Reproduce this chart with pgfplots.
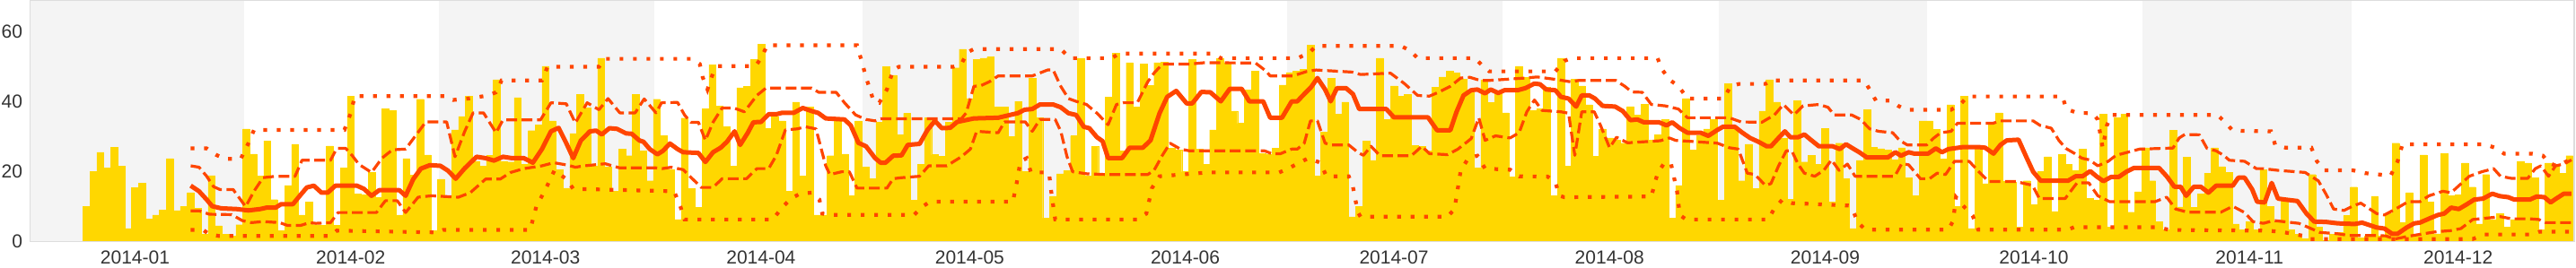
\documentclass[border=0pt]{standalone}
\usepackage{fontspec}
\setmainfont{Liberation Sans}
\usepackage{pgfplots}
\pgfplotsset{compat=1.18}
\definecolor{bargold}{RGB}{255,215,0}
\definecolor{lineor}{RGB}{255,69,0}
\definecolor{bandgray}{RGB}{244,244,244}
\definecolor{spinegray}{RGB}{221,221,221}
\definecolor{txtgray}{RGB}{51,51,51}
\begin{document}
\begin{tikzpicture}
\begin{axis}[
  name=main,
  scale only axis,
  width=1417pt, height=134.15pt,
  xmin=-0.03, xmax=365.69, ymin=0, ymax=69,
  xtick={15,46,74,105,135,166,196,227,258,288,319,349},
  xticklabels={2014-01,2014-02,2014-03,2014-04,2014-05,2014-06,2014-07,2014-08,2014-09,2014-10,2014-11,2014-12},
  ytick={0,20,40,60},
  major tick length=0pt,
  tick style={draw=none},
  axis line style={draw=spinegray, line width=0.6pt},
  tick label style={font=\fontsize{10.5}{12}\selectfont, text=txtgray},
  /pgf/number format/assume math mode=true,
  xticklabel style={yshift=-2pt},
  yticklabel style={xshift=-1pt},
]
\fill[bandgray] (axis cs:-0.03,0) rectangle (axis cs:30.65,69);
\fill[bandgray] (axis cs:58.65,0) rectangle (axis cs:89.65,69);
\fill[bandgray] (axis cs:119.65,0) rectangle (axis cs:150.65,69);
\fill[bandgray] (axis cs:180.65,0) rectangle (axis cs:211.65,69);
\fill[bandgray] (axis cs:242.65,0) rectangle (axis cs:272.65,69);
\fill[bandgray] (axis cs:303.65,0) rectangle (axis cs:333.65,69);

\addplot[ybar, bar width=1, fill=bargold, draw=bargold, line width=0.2pt] coordinates {
(8,10)(9,20)(10,25.5)(11,21)(12,27)(13,21.6)(14,3.6)(15,15.4)(16,16.7)(17,6.4)(18,7.5)(19,9)(20,23.7)(21,8.8)(22,10)(23,13.9)(24,9.5)(25,2)(26,18.8)(27,4.4)(28,2)(29,1.5)(30,4.7)(31,32.2)(32,25)(33,18.6)(34,28.8)(35,11.9)(36,3)(37,16)(38,27.8)(39,7.5)(40,11.2)(41,4.7)(42,4.5)(43,27.3)(44,4.5)(45,21)(46,41.6)(47,13.6)(48,13.3)(49,19.7)(50,12.6)(51,37.9)(52,37.5)(53,7.5)(54,23.7)(55,19)(56,40.7)(57,24.7)(58,3)(59,17.8)(60,12.6)(61,31.9)(62,35.8)(63,41.6)(64,22.9)(65,21.6)(66,24.6)(67,46.3)(68,22.9)(69,22.7)(70,41.2)(71,22)(72,31.7)(73,33.4)(74,50.2)(75,34.5)(76,20.5)(77,15.2)(78,30.9)(79,42)(80,38.2)(81,21.6)(82,52.5)(83,21.2)(84,14.3)(85,26.4)(86,24.5)(87,42)(88,25.8)(89,17.3)(90,40.7)(91,30.2)(92,20.6)(93,6.2)(94,35.3)(95,15)(96,9.6)(97,37.9)(98,50.6)(99,38.8)(100,32.8)(101,21.6)(102,44)(103,44.4)(104,52.1)(105,56.4)(106,32.4)(107,35.8)(108,34.5)(109,14.3)(110,39.9)(111,18.6)(112,38.4)(113,7.5)(114,7.5)(115,24.5)(116,34.5)(117,25)(118,13)(119,34.5)(120,21.2)(121,18)(122,34.2)(123,50)(124,47.6)(125,30.5)(126,36.7)(127,11.8)(128,22)(129,35.4)(130,24.8)(131,24.3)(132,34.2)(133,49.7)(134,55.1)(135,40.9)(136,52.1)(137,52.5)(138,52.8)(139,38.5)(140,38.4)(141,30)(142,40.1)(143,19.9)(144,46.7)(145,35.4)(146,6.6)(147,12.9)(148,19.3)(149,20.3)(150,30.2)(151,52.5)(152,18.6)(153,27.2)(154,19.5)(155,41.4)(156,54)(157,25.9)(158,51.2)(159,38.5)(160,50.8)(161,44.6)(162,51.2)(163,51.4)(164,26.6)(165,26.1)(166,19.9)(167,52.1)(168,26.4)(169,22.1)(170,31.9)(171,52.5)(172,51.2)(173,37.3)(174,33.8)(175,43.3)(176,48.7)(177,25.2)(178,24.9)(179,26.6)(180,44.8)(181,48.4)(182,48.8)(183,49.3)(184,56.2)(185,18.6)(186,31.2)(187,46.7)(188,36.4)(189,39.9)(190,7)(191,10)(192,28.7)(193,23.2)(194,52.5)(195,34.9)(196,44.5)(197,41.5)(198,42)(199,27.4)(200,27.2)(201,25.8)(202,44.1)(203,47.1)(204,48.8)(205,48.2)(206,46.4)(207,42.7)(208,21)(209,46.3)(210,39.7)(211,43.1)(212,36.8)(213,18.4)(214,50.2)(215,47)(216,37.5)(217,37.9)(218,44.2)(219,13)(220,52.5)(221,21.5)(222,46.5)(223,44.5)(224,39.1)(225,24.4)(226,32.2)(227,29.6)(228,29)(229,28.1)(230,38.6)(231,36.2)(232,39.2)(233,28.9)(234,30.6)(235,34.9)(236,6.6)(237,16)(238,40.9)(239,26.1)(240,30.2)(241,32.2)(242,34.9)(243,11.8)(244,45.2)(245,32.8)(246,17.3)(247,27.8)(248,15)(249,37.3)(250,46.3)(251,39.9)(252,29.4)(253,12)(254,40.3)(255,22.7)(256,24.6)(257,22.1)(258,32.4)(259,11.2)(260,28.1)(261,17.9)(262,3.6)(263,23.2)(264,37.8)(265,27)(266,26.5)(267,26.2)(268,23.3)(269,26.8)(270,18.2)(271,13)(272,34.5)(273,34.5)(274,32)(275,23.5)(276,39.1)(277,10)(278,41.6)(279,3.6)(280,27.5)(281,16.5)(282,34.2)(283,36.8)(284,17.1)(285,16.9)(286,4)(287,17.3)(288,10.5)(289,19.9)(290,24.2)(291,8.5)(292,24.8)(293,22)(294,20.3)(295,26.4)(296,12.2)(297,11.8)(298,36.4)(299,4)(300,35.4)(301,36.5)(302,8.3)(303,14.2)(304,26.8)(305,17.3)(306,5.6)(307,3.3)(308,31.8)(309,9.8)(310,24)(311,9.6)(312,13.6)(313,19.5)(314,26.8)(315,21.4)(316,19.8)(317,4.9)(318,3.2)(319,5.5)(320,3.2)(321,20.5)(322,10)(323,5.3)(324,12.4)(325,3.2)(326,1.9)(327,0.6)(328,19.1)(329,4)(330,0.2)(331,1.9)(332,2.5)(333,7.3)(334,15.5)(335,0.9)(336,1.5)(337,12.9)(338,1.5)(339,7.9)(340,28.1)(341,5.3)(342,13.9)(343,1.5)(344,24.7)(345,11.3)(346,2.1)(347,25.2)(348,13)(349,13.2)(350,22.4)(351,15.5)(352,4.9)(353,19.1)(354,6.2)(355,7.9)(356,4)(357,6.2)(358,22.9)(359,22.4)(360,18.2)(361,3.3)(362,22.4)(363,21.6)(364,19.5)(365,24.5)
};

% rolling maximum
\addplot[lineor, line width=2.1pt, dash pattern=on 2.1pt off 5.4pt] coordinates {
(23,26.6)(25.3,26.6)(26.6,24.8)(27.9,23.6)(30.2,23.6)(31.3,28.1)(32.1,31.9)(45.1,31.9)(46,36.7)(46.6,41.6)(59.6,41.6)(60.7,40.5)(62.9,40.9)(65.8,41.8)(66.9,42.7)(67.7,46.1)(73.5,46.1)(74.3,50)(81.7,50)(82.5,52.3)(95.1,52.3)(96.2,50.8)(96.6,47.1)(97.3,43.5)(98.1,48.2)(98.8,50.2)(104.2,50.2)(105,52.5)(105.9,56.2)(118.8,56.2)(119.4,52.1)(120.1,47)(121.2,40.1)(122,39.7)(123.1,43.5)(124,49.1)(124.8,50)(132.6,50)(133.8,50.8)(134.7,54.2)(135.6,55.1)(148.1,55.1)(149.4,52.5)(155.4,52.5)(156.5,53.8)(170,53.8)(171.1,52.5)(182.2,52.5)(183.9,54.2)(184.8,56)(197,56)(198.3,54.7)(199.4,52.5)(207.6,52.5)(208.7,50.4)(209.7,48.7)(219.2,48.7)(220.5,51.7)(221.5,52.5)(233.9,52.5)(234.5,49.4)(235.6,46.3)(236.9,44.5)(238.2,40.9)(243.4,40.9)(244.4,44.4)(245.6,45.1)(249.4,45.1)(250.2,46.1)(263.6,46.1)(264.4,43.5)(265.3,40.3)(267.4,40.3)(268.5,38.8)(269.6,37.7)(276.1,37.7)(277.4,39.2)(278.5,41.5)(292.1,41.5)(292.7,37.9)(294.2,36.8)(296.4,36.7)(297.2,34.9)(297.7,28.9)(297.9,26.8)(298.5,33.2)(299.2,36.2)(314.4,36.2)(315.5,34.1)(316.6,31.7)(322.1,31.5)(322.7,27.6)(324.2,26.8)(327.9,26.8)(328.7,22.9)(329.8,20.3)(333.9,20.3)(335.6,19.5)(339.3,18.8)(340.3,22.9)(341,27.8)(352.8,27.8)(354.3,26.8)(355.6,25.1)(359.7,25.1)(361.2,24.5)(362,22.5)(363.1,21.6)(364.2,22.5)(365,23.3)
};
% rolling minimum
\addplot[lineor, line width=2.1pt, dash pattern=on 2.1pt off 5.4pt] coordinates {
(23,3.2)(24.8,3.2)(25.7,1.9)(27,1.5)(43.1,1.5)(44,3)(58.5,2.5)(59.3,3.2)(71.8,3.2)(72.7,10)(74,14.8)(75.3,20.3)(77,17.8)(78,15)(92.5,14.3)(93.4,10)(94,6.2)(106.7,6.2)(108,9.6)(109.3,12.2)(110.6,13.6)(112.3,13.9)(113.4,11.9)(113.8,7.9)(114.9,7.5)(127,7.5)(128.2,9.9)(129.3,11.3)(141.2,11.3)(141.7,16)(142.3,22.9)(143.2,23.8)(143.8,19.7)(146.4,19.7)(146.8,13)(147.3,6.2)(159.1,6.2)(160.4,7.9)(161.2,15.2)(162.3,18.6)(169.2,19.7)(179.5,19.7)(180.8,20.8)(182.1,22.2)(183.7,23.8)(185.4,22.5)(186.3,18.6)(189.5,18.6)(190.1,15.6)(190.8,8.3)(191.2,7)(203.7,7)(204.7,9.2)(205.6,20.3)(206.7,23.8)(208,24.5)(209.1,20.8)(212.7,20.5)(214,18.6)(218.1,18.5)(219.2,16.9)(219.8,13)(220.5,12.6)(233,12.8)(233.9,19.5)(234.8,22.2)(235.8,22.5)(236.7,14.3)(237.1,7.5)(238,6.2)(249.8,6.2)(250.7,9.4)(251.8,11.8)(253.2,10.9)(261.4,10.2)(262.1,8.3)(262.7,5.3)(263.8,3.3)(275.7,3.3)(276.4,5.8)(276.8,12.6)(277.9,10)(279.2,7.3)(280,3.3)(292.9,3.3)(293.8,4)(305.8,4)(307.5,3.2)(321.4,3)(323.5,2.7)(326.8,1.5)(327.4,0.6)(351.1,0.6)(352.8,1.9)(359.7,1.9)(360.7,2.7)(365.3,2.7)
};
% upper quartile
\addplot[lineor, line width=1.6pt, dash pattern=on 6pt off 2.6pt, line join=round] coordinates {
(23,21.6)(24.2,21.2)(25.3,18.6)(26.3,15.6)(27.2,14.8)(29.1,14.8)(30.9,9.9)(32.1,14.3)(33.4,18.2)(35.2,18.6)(38,18.6)(39,23.2)(43.1,23.2)(44,26.6)(45.3,26.6)(46.2,24.6)(47.2,22)(49,19.7)(50.5,23.8)(52,26.2)(53.9,26.4)(56.8,34.2)(59.8,34.2)(61,24.2)(62.4,31.5)(63.6,36.8)(65.1,36.8)(66.9,31.1)(67.9,34.8)(73.3,34.8)(74.8,39.7)(77,39.4)(78.3,33.9)(80,39.7)(81.7,37.7)(83,40.9)(84.7,36.8)(86.9,36.8)(88.2,40.8)(89.9,36.8)(90.7,39.7)(93,39.8)(94,36.2)(94.9,34.1)(96,34.1)(97,28.9)(98.1,34.1)(99.4,38.2)(101.1,38.2)(102.6,37.1)(104.4,41.8)(105.7,43.9)(112.3,43.9)(113.3,42.7)(115.8,42.7)(117,39.7)(118.6,36.2)(120.1,34.9)(121.4,34.5)(122.2,35.1)(133.8,35.1)(134.5,36.8)(135.6,44.4)(136.6,44.6)(137.8,45.7)(139.1,47.4)(144,47.4)(146.2,49.1)(147,49.1)(148.1,44.4)(149.2,40.9)(150.3,40.1)(151.8,39.2)(153.3,36.7)(154.9,33.4)(156.1,39.2)(157.1,39.7)(159.1,39.7)(160.6,45.7)(161.5,48.2)(162.7,50.8)(166.6,50.8)(168.8,51.2)(176.1,51.1)(177.6,48.8)(178.2,47.4)(181.5,47.4)(182.1,47.8)(183.5,48.7)(184.8,49.1)(190,48.5)(191.2,47.8)(195.5,48.2)(197.5,45.2)(199.4,41.8)(201.1,41.6)(202.4,42.7)(204.1,44.4)(205.6,46.8)(206.9,47)(208.4,46.1)(209.7,46.1)(214.9,46.8)(216.6,47.1)(219.6,46.3)(221.4,45.7)(222.6,46.1)(227.9,46.1)(229.2,44.4)(230.2,42.8)(231.7,42.7)(233,39.2)(235,38.8)(236.9,37.9)(238.2,35.4)(244.2,35.4)(245.9,34.2)(248.9,34.1)(250.7,36.2)(252,39.2)(253.5,36.2)(254.8,38.8)(257.1,39.2)(258.4,38.4)(259.3,36.2)(261.8,36.2)(263.1,34.9)(264.4,32.2)(265.7,31.5)(267.7,31.1)(268.7,28.9)(269.8,27.6)(272.6,27.6)(273.5,29.4)(274.6,31.1)(276.1,31.5)(277,33.8)(282.1,33.8)(283.2,34.5)(287.9,34.5)(288.9,33.2)(290.5,32.4)(291.6,28.9)(292.6,26.6)(293.9,25.1)(294.9,23.8)(296,23.3)(297.2,21.6)(298.7,22.9)(299.8,24.6)(301.5,25.5)(303.2,26.4)(308,26.7)(308.9,29.6)(309.7,30.6)(311.8,30.5)(312.9,26.6)(314.2,25.9)(315.3,24.6)(316.1,23.2)(318.3,22.9)(319.1,21.9)(320,20.8)(321,20.8)(323.1,20.3)(327,19.7)(328.9,17.3)(330,13.5)(331.1,9.2)(332.6,8.8)(333.8,10)(335,10.9)(336,9.6)(337.3,7.9)(338.4,7.5)(340,9.2)(341.8,11.3)(343.5,11.3)(344.8,13)(346.8,14.3)(348,13.9)(350.6,18.6)(352.4,19.9)(354.1,20.8)(355.1,18.6)(356.7,18)(359,18)(360.1,20.8)(360.9,21.6)(362,18.6)(363,21.6)(364.2,22.1)(365.3,23.3)
};
% lower quartile
\addplot[lineor, line width=1.6pt, dash pattern=on 6pt off 2.6pt, line join=round] coordinates {
(23,8.7)(24.2,8.7)(25.7,7.7)(28.9,7.6)(30.4,5.9)(31.7,5.3)(33.4,5.6)(35.8,5.3)(36.9,4.5)(38.8,4.5)(40.1,5.3)(41,5.1)(43.1,5.3)(44.2,8.2)(49.7,8.2)(51,11.6)(52.7,11.6)(53.9,8.2)(55.7,12.6)(57.6,13)(61.5,12.6)(63.2,13.9)(65.4,17.8)(67.5,17.8)(69,19.7)(70.9,20.8)(73.5,21.6)(75.2,22.5)(77.2,21.8)(78.3,21.2)(79.6,21.6)(82.6,22.2)(84.7,21)(89.9,21)(90.8,20.8)(92.1,21.2)(93.8,20.5)(96.4,15.4)(98.1,15.4)(99.4,17.9)(102.9,17.9)(104.4,20.8)(106.1,20.8)(107.2,24.6)(108.5,31.9)(110.2,32.2)(111.4,32.8)(112.9,32.2)(114.3,21.6)(114.9,19.1)(116.6,19.9)(117.7,19.9)(118.8,15.2)(123.1,15.2)(124,17.9)(125.2,18.2)(127.8,18.6)(129.1,21.6)(131.7,21.6)(133.8,24.2)(135.1,26.4)(136,31.5)(139.1,31.1)(140,34.2)(143,34.2)(144,31.5)(145.1,34.9)(147.3,34.9)(148.1,31.5)(149,24.2)(149.8,19.9)(151.9,19.3)(154.6,19.1)(160.6,19.1)(161.5,20.3)(162.7,24.6)(163.8,28.1)(165.3,26.4)(166.6,25.9)(177.4,25.9)(178.4,25.1)(179.7,25.1)(181.3,26.4)(182.1,26.4)(183.1,28.1)(184,34.5)(185,34.5)(186.1,28.1)(187,27.6)(189.5,27.6)(190.8,25.5)(191.6,24.6)(192.7,27.2)(194,24.5)(198.5,24.5)(200,27.2)(201.1,25.1)(203.7,24.8)(205.2,26.4)(207.1,29.4)(208.2,35.4)(209.1,28.9)(210.6,30.2)(212.7,29.6)(214,31.1)(215.1,37.1)(216.2,40.5)(217.3,37.5)(220,37.1)(221.1,36.7)(222,24.6)(223,37.1)(224.8,37.1)(225.7,33.2)(227,26.8)(228,29.8)(229.6,28.2)(234.3,28.8)(235.6,29.6)(236.5,28.9)(242.5,28.1)(244.2,26.8)(245.5,26.4)(246.8,19.5)(247.9,19.1)(249.4,16)(250.2,16.5)(251.3,21.6)(252.4,25.9)(253.2,25.9)(254.1,22.1)(255,19.5)(256.5,18.6)(257.8,20.3)(258.9,23.3)(260,20.3)(261.2,22.1)(262.3,18.6)(268,18.6)(269,22.2)(270,21.9)(271.7,17.9)(273,17.9)(274.1,19.5)(275.3,19.1)(276.6,22.9)(278.7,22.9)(280.2,19.7)(281.5,17.1)(285.4,17.1)(287.8,16)(288.8,12.2)(292.5,12.2)(294.2,16.7)(295.9,16.7)(297.2,13)(298.9,11.3)(305.4,11.3)(307.1,12.6)(308.4,9.2)(310.1,8.3)(314.9,8.3)(316.6,10)(318.3,8.2)(319.5,5.6)(321,5.1)(322.5,5.9)(326.1,5.1)(327.4,4)(329.1,2.5)(331.7,2.1)(333.4,1.6)(336.9,1.6)(338.6,1.5)(339.9,0.6)(341.6,1.3)(344,2.1)(345.9,2.7)(347.9,3)(349.4,3.6)(351.1,6.2)(354.1,6.8)(355.1,7)(356.7,6.4)(359.3,6.4)(360.6,6.2)(361.6,5.3)(365.3,5.3)
};
% rolling mean
\addplot[lineor, line width=2.5pt, line join=round] coordinates {
(23,15.9)(24.2,14.3)(25.3,11.9)(26.1,10.0)(27.4,9.4)(29.6,9.2)(31.3,8.8)(33,9.2)(33.9,9.6)(35.2,9.6)(36,10.6)(37.7,10.6)(38.6,12.8)(39.7,15.4)(40.7,15.9)(41.8,13.9)(42.7,13.9)(43.8,15.9)(46.9,15.9)(47.9,15)(49,13)(50.1,14.6)(53,14.6)(53.9,13)(55,17.8)(56.1,20.8)(57.4,21.8)(58.9,21.6)(60,20.2)(61.1,17.9)(62.4,20.9)(64.1,24.2)(65.4,23.8)(66.6,23.1)(67.9,24.2)(69.2,23.8)(70.9,23.8)(72.2,22.5)(73.5,26.4)(74.8,31.5)(75.9,32.5)(77,28.1)(78,23.8)(79.1,28.9)(80.4,31.5)(81.3,31.7)(82.1,30.6)(83.2,32.4)(84.3,32.2)(85.6,30.9)(86.4,30.8)(87.5,28.9)(88.1,28.5)(89,26.4)(90.1,24.9)(90.9,25.9)(91.9,28)(93,26.4)(93.8,25.5)(96,25.3)(97,22.7)(98.1,25.5)(99.2,26.8)(100.1,28.5)(101.2,31.5)(102,27.6)(103.1,31.1)(103.9,34.1)(105,34.2)(106.1,36.4)(107.2,36.4)(108,36.8)(109.7,36.8)(111,38.2)(112.3,37.3)(113.2,36.8)(114.3,35.2)(117,34.9)(117.9,33.2)(119,28.2)(120.1,27.2)(121.4,23.8)(122.2,22.5)(122.9,22.5)(124,24.5)(125.2,24.6)(126.1,27.6)(127.8,27.9)(128.9,31.8)(130,34.5)(131,32.4)(132.2,32.5)(133.2,34.2)(135.6,35.2)(139.1,35.4)(140.8,36.2)(141.9,36.7)(142.9,37.7)(144,37.9)(145.1,39.2)(147,39.2)(148.1,38.4)(149.2,36.7)(150.3,36.2)(151.4,32.8)(152.2,32.4)(153.3,29.8)(154.1,28.7)(154.9,23.8)(156.9,23.8)(158,26.8)(159.9,26.8)(161,28.9)(162.3,36.7)(163.4,41.4)(164.7,43.1)(166.2,39.5)(167,39.5)(168.3,42.8)(169.6,42.7)(171.1,40.1)(172.4,43.7)(174.1,43.7)(175.2,40.1)(177.2,40.1)(178.2,35.4)(179.9,35.4)(181.3,40.1)(182.1,40.1)(183.1,42.2)(184.1,44.2)(185,46.8)(186.1,43.5)(186.9,40.1)(187.8,43.9)(189.1,43.9)(190.1,42.2)(191,37.9)(194.9,37.9)(196,35.5)(200.9,35.5)(202.2,31.8)(204.1,31.8)(205,37.1)(206,41.8)(207.1,43.3)(208,43.5)(209.1,42.4)(209.9,43.5)(211,42.5)(211.9,43.3)(213.8,43.3)(214.9,43.9)(216.2,45.2)(217,45)(217.9,43.5)(219.2,43.3)(220,41.4)(221.1,40.9)(222.2,38.6)(223,41.8)(224.1,41.8)(224.9,40.9)(226,38.8)(227.8,38.6)(228.9,37.3)(230,34.7)(231,34.9)(231.9,34.1)(234.1,34.1)(235.2,33.2)(236,34.1)(237.1,32.4)(238.2,31.1)(240.1,31.1)(241.2,30.2)(242.5,31.9)(243.3,32.8)(245,32.8)(246.1,31.1)(247.2,29.6)(248.4,28.5)(249.6,27.2)(250.2,27.2)(251.3,29.6)(252.2,31.5)(253,29.8)(254.1,29.8)(255,30.6)(256.1,28.8)(257.1,27.2)(259.1,27.2)(260.1,26.4)(261,27.8)(261.8,26.8)(262.9,25.5)(264,24)(267,24)(268.1,25.5)(268.9,24.5)(270,25.5)(270.8,25.1)(272.8,25.1)(273.9,26.6)(274.8,25.5)(275.7,26.4)(277.9,27)(280,27)(281,26.8)(282.2,25.1)(283.2,27.6)(284.1,28.9)(285.8,29.1)(286.9,24.2)(287.9,19.9)(289,17.3)(292.9,17.3)(294,18.6)(295,18.6)(296.1,20.1)(297,18.6)(298,17.2)(299.1,18.4)(300.2,18.4)(301.3,19.9)(302.4,21)(306,21)(307.1,18.6)(308.2,15.6)(309.1,15.6)(309.9,13)(311,15.6)(312,15.6)(313.1,13.9)(314.2,15.9)(316.6,15.9)(317.4,18.2)(318.3,18.2)(319.4,14.8)(320.1,11.3)(321.2,11.1)(322.2,16.7)(323.1,12.2)(324.2,11.9)(325.9,11.5)(327.2,7.9)(328.3,5.6)(330,5.5)(331.7,5.1)(334.1,4.9)(335.2,5.3)(337.3,3.9)(338.4,3.6)(339.5,2.1)(340.3,2.1)(341.6,3.9)(342.7,5.1)(343.5,5.3)(345,6.6)(346.1,7.5)(347,7.9)(348,9.6)(349.1,9.2)(350.2,10.5)(351.3,11.9)(352.6,12.2)(353.9,13.6)(355,12.9)(356.2,12.6)(357.1,11.9)(359.3,11.9)(360.3,12.8)(361.4,12.6)(362.3,11.1)(363.1,12.2)(364.2,13.6)(365.3,13.6)
};
\end{axis}
\pgfresetboundingbox
\path (main.south west) ++(-17pt,-15pt) rectangle ++(1435pt,149.5pt);
\end{tikzpicture}
\end{document}
